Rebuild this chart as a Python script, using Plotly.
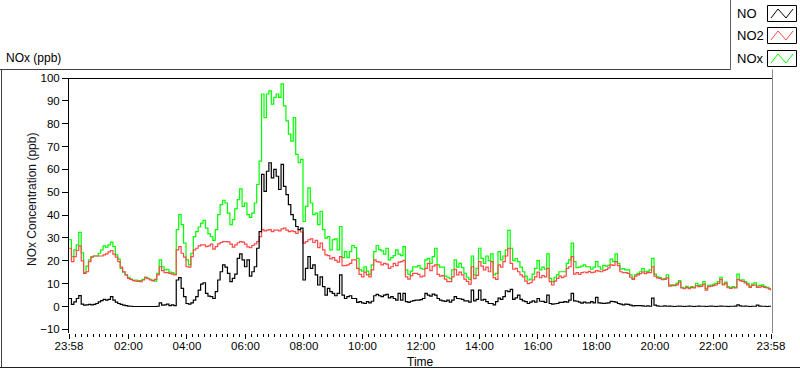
import plotly.graph_objects as go

# ---------------- data ----------------
# minutes after 23:58, every 5 minutes
minutes = list(range(0, 1441, 5))

no_ppb = [
    3.5, 0.9, 2.0, 3.5, 4.8, 1.0, 0.6, 0.7, 0.9, 0.7, 0.9, 1.3,
    2.0, 2.6, 3.1, 2.8, 3.1, 4.3, 2.8, 1.9, 1.3, 0.9, 0.6, 0.4,
    0.2, 0.1, 0.0, 0.0, 0.0, 0.0, 0.0, 0.0, 0.0, 0.0, 0.0, 0.0,
    0.1, 1.6, 0.6, 0.7, 1.0, 0.4, 0.7, 0.4, 11.6, 12.6, 7.9, 4.3,
    1.3, 1.0, 1.6, 2.8, 4.3, 7.2, 9.8, 10.4, 5.7, 4.5, 4.3, 3.5,
    6.5, 11.6, 15.2, 18.2, 17.2, 14.5, 10.9, 12.3, 14.2, 21.1, 23.0, 20.4,
    17.4, 20.4, 13.3, 15.2, 17.4, 25.5, 32.8, 57.8, 50.4, 59.2, 62.9, 56.3,
    60.0, 57.0, 51.2, 62.2, 52.6, 49.0, 44.6, 40.2, 38.0, 35.0, 33.6, 34.3,
    11.6, 16.7, 21.8, 16.7, 18.2, 13.8, 9.4, 13.0, 8.7, 5.0, 7.9, 6.5,
    5.7, 4.7, 5.7, 13.8, 5.0, 3.5, 4.3, 4.7, 3.5, 3.5, 1.8, 2.1,
    1.6, 1.3, 2.1, 1.6, 2.3, 4.7, 5.3, 4.7, 4.3, 5.0, 5.3, 3.8,
    4.3, 3.5, 2.8, 5.7, 2.8, 5.7, 2.1, 1.8, 2.3, 2.6, 2.8, 2.8,
    3.0, 3.5, 5.7, 5.0, 4.5, 5.4, 5.0, 3.5, 2.8, 2.5, 2.2, 2.8,
    1.9, 2.8, 4.3, 3.5, 3.4, 3.1, 2.5, 2.5, 1.9, 7.2, 2.5, 3.1,
    7.2, 2.8, 3.1, 2.1, 1.3, 1.3, 0.7, 2.1, 3.7, 3.1, 4.3, 6.9,
    6.5, 7.5, 3.1, 3.8, 5.0, 3.1, 2.5, 2.1, 1.3, 1.9, 2.5, 1.9,
    3.5, 2.3, 2.2, 1.8, 5.0, 1.3, 1.0, 1.2, 1.3, 1.8, 1.8, 2.1,
    1.9, 2.8, 5.7, 2.5, 2.3, 1.9, 1.5, 1.9, 1.6, 1.6, 2.1, 1.6,
    4.0, 1.6, 1.5, 1.3, 1.5, 1.6, 2.2, 2.1, 1.9, 1.3, 1.0, 0.7,
    1.0, 0.9, 0.6, 0.3, 0.4, 0.4, 0.4, 0.3, 0.1, 0.3, 0.1, 3.7,
    0.6, 0.3, 0.1, 0.1, 0.3, 0.1, 0.2, 0.1, 0.0, 0.1, 0.2, 0.1,
    0.0, 0.1, 0.2, 0.1, 0.0, 0.1, 0.2, 0.1, 0.1, 0.0, 0.1, 0.2,
    0.1, 0.0, 0.1, 0.2, 0.1, 0.1, 0.0, 0.1, 0.1, 0.2, 0.7, 0.3,
    0.1, 0.2, 0.1, 0.0, 0.1, 0.1, 0.6, 0.2, 0.1, 0.1, 0.0, 0.1,
    0.1,
]

no2_ppb = [
    25.5, 19.6, 21.8, 24.5, 26.5, 20.0, 14.5, 15.2, 19.6, 21.6, 22.1, 22.1,
    22.1, 22.1, 22.6, 23.0, 23.9, 24.5, 22.9, 21.6, 19.6, 17.2, 15.2, 13.8,
    12.3, 11.9, 11.3, 11.1, 11.0, 10.9, 11.6, 12.6, 12.2, 11.6, 11.3, 11.9,
    13.8, 17.4, 15.7, 14.8, 14.8, 14.5, 14.2, 13.8, 24.8, 26.2, 23.3, 21.6,
    17.4, 17.2, 21.8, 24.8, 25.5, 26.5, 27.0, 27.0, 26.2, 26.5, 27.3, 25.1,
    26.2, 27.4, 28.0, 28.4, 28.4, 28.3, 27.3, 26.0, 27.0, 27.9, 28.4, 28.2,
    27.3, 26.1, 25.8, 26.7, 27.4, 28.4, 30.6, 33.6, 33.1, 33.4, 33.6, 32.8,
    33.4, 33.4, 33.1, 34.0, 34.3, 33.4, 32.8, 33.1, 32.8, 32.0, 33.6, 32.6,
    27.7, 28.4, 29.2, 29.6, 28.0, 28.9, 25.8, 27.7, 24.8, 22.6, 22.3, 20.8,
    21.4, 20.2, 19.4, 21.8, 17.9, 17.9, 18.2, 18.9, 20.4, 20.4, 16.7, 14.1,
    13.0, 15.0, 13.8, 13.0, 16.0, 20.4, 19.6, 19.4, 18.2, 18.9, 18.5, 16.7,
    17.4, 18.9, 17.9, 19.4, 19.6, 20.2, 13.0, 12.0, 13.5, 14.5, 14.5, 14.1,
    13.0, 13.3, 16.7, 18.9, 15.7, 17.7, 18.2, 14.1, 13.3, 13.5, 12.0, 10.9,
    10.9, 13.0, 16.3, 13.8, 15.0, 13.8, 12.0, 11.0, 9.8, 17.4, 12.2, 13.6,
    19.6, 17.7, 16.0, 17.2, 15.2, 19.6, 12.6, 11.9, 18.2, 17.2, 19.6, 22.1,
    25.5, 18.9, 16.3, 16.7, 15.2, 13.8, 13.0, 11.1, 10.0, 10.4, 11.6, 13.0,
    15.0, 12.6, 13.5, 13.0, 16.7, 10.9, 9.4, 11.1, 12.3, 13.3, 12.6, 13.3,
    16.7, 17.4, 21.8, 14.2, 14.8, 14.1, 14.8, 15.1, 14.8, 15.4, 14.8, 15.0,
    15.7, 15.5, 15.2, 15.8, 16.1, 16.9, 18.2, 18.0, 19.6, 17.9, 15.2, 14.8,
    14.8, 14.5, 12.8, 11.9, 13.3, 13.8, 14.4, 15.1, 14.4, 14.8, 14.8, 17.4,
    13.3, 12.5, 12.3, 11.7, 11.9, 12.5, 8.9, 9.1, 9.1, 9.5, 10.7, 8.1,
    7.8, 8.4, 7.8, 8.4, 8.1, 9.1, 8.7, 8.8, 9.8, 7.2, 8.7, 8.9,
    9.1, 9.4, 10.1, 11.9, 9.4, 10.1, 8.2, 7.9, 8.2, 8.1, 11.9, 11.3,
    11.0, 10.3, 9.5, 8.4, 9.2, 9.4, 8.4, 8.5, 8.8, 8.4, 8.1, 7.6,
    6.9,
]

nox_ppb = [
    29.2, 21.8, 24.8, 27.0, 32.4, 23.5, 14.8, 17.7, 20.4, 21.8, 22.1, 22.1,
    23.3, 24.8, 26.5, 26.0, 27.0, 28.2, 26.2, 22.6, 20.7, 16.7, 15.0, 13.8,
    12.8, 11.9, 11.6, 11.6, 11.3, 11.3, 11.9, 12.9, 12.3, 11.9, 11.3, 11.1,
    14.5, 20.4, 17.4, 16.0, 16.3, 15.1, 14.8, 14.2, 33.6, 40.2, 35.8, 27.7,
    20.4, 18.2, 23.3, 30.6, 32.8, 34.8, 36.5, 37.7, 34.3, 31.8, 30.6, 28.9,
    33.6, 40.2, 44.6, 46.5, 45.3, 40.9, 35.8, 38.0, 42.7, 46.8, 51.5, 43.8,
    45.3, 40.2, 39.0, 40.9, 45.3, 53.4, 63.6, 93.0, 82.7, 93.0, 94.4, 88.6,
    91.5, 93.0, 91.5, 97.4, 87.8, 81.2, 75.4, 72.4, 82.7, 66.6, 62.9, 64.4,
    37.2, 43.8, 51.9, 45.3, 40.2, 40.9, 35.8, 41.6, 33.6, 29.9, 30.6, 24.8,
    29.2, 29.6, 24.8, 35.0, 21.4, 24.0, 21.4, 24.0, 26.7, 25.8, 21.1, 16.0,
    15.5, 17.4, 15.5, 14.1, 18.2, 24.0, 26.7, 24.9, 24.3, 22.9, 25.5, 20.4,
    21.4, 22.3, 24.8, 22.9, 22.3, 26.2, 16.0, 14.1, 15.5, 17.4, 17.3, 17.9,
    16.7, 16.3, 20.4, 21.1, 18.9, 21.8, 25.5, 18.2, 17.2, 17.2, 13.3, 12.8,
    12.2, 16.0, 20.4, 17.2, 18.9, 17.0, 14.5, 12.8, 11.9, 22.1, 13.8, 16.7,
    25.5, 21.1, 18.9, 22.1, 20.1, 23.0, 13.8, 14.5, 24.0, 20.4, 22.1, 24.8,
    33.3, 25.5, 20.1, 21.0, 19.6, 17.2, 15.2, 13.3, 11.6, 12.0, 14.2, 16.7,
    20.1, 16.0, 17.2, 16.3, 23.0, 12.3, 10.9, 12.8, 13.8, 15.2, 15.2, 15.2,
    18.9, 20.4, 27.7, 19.6, 17.0, 17.2, 17.7, 18.2, 17.4, 17.4, 16.3, 17.2,
    19.6, 17.4, 16.3, 18.0, 17.7, 18.0, 20.7, 19.6, 23.0, 18.9, 16.3, 16.6,
    16.0, 16.0, 13.8, 12.2, 13.8, 14.5, 15.2, 16.6, 15.2, 15.4, 16.0, 21.1,
    14.2, 13.0, 12.6, 12.0, 12.2, 13.9, 9.5, 9.5, 9.5, 10.1, 11.3, 8.4,
    8.1, 8.8, 8.2, 8.7, 8.4, 10.1, 9.2, 9.5, 10.9, 7.9, 9.2, 9.4,
    9.7, 10.1, 10.9, 12.8, 9.8, 10.7, 8.7, 8.2, 8.7, 8.4, 14.2, 11.6,
    11.7, 10.9, 10.1, 8.8, 9.8, 10.3, 8.9, 9.2, 9.5, 8.8, 8.4, 7.9,
    7.3,
]

x_tick_vals = [0, 122, 242, 362, 482, 602, 722, 842, 962, 1082, 1202, 1322, 1440]
x_tick_text = ["23:58", "02:00", "04:00", "06:00", "08:00", "10:00", "12:00",
               "14:00", "16:00", "18:00", "20:00", "22:00", "23:58"]
y_tick_vals = list(range(-10, 101, 10))

series_names = ["NO", "NO2", "NOx"]
series_colors = ["#000000", "#ff4848", "#00ff00"]

# ---------------- layout geometry ----------------
W, H = 800, 369
L, R, T, B = 69, 29, 78, 36
PW, PH = W - L - R, H - T - B


def px(x):
    return (x - L) / PW


def py(y):
    return (H - B - y) / PH


FONT = "Liberation Sans, Arial, sans-serif"

fig = go.Figure()
for name, vals, col in [("NOx", nox_ppb, series_colors[2]),
                        ("NO2", no2_ppb, series_colors[1]),
                        ("NO", no_ppb, series_colors[0])]:
    fig.add_trace(go.Scatter(x=minutes, y=vals, mode="lines", name=name,
                             line=dict(color=col, width=1.2, shape="hv"),
                             showlegend=False, hoverinfo="skip"))

shapes = []


def seg(x0, y0, x1, y1, color="#000000", width=1):
    shapes.append(dict(type="line", xref="paper", yref="paper",
                       x0=px(x0), y0=py(y0), x1=px(x1), y1=py(y1),
                       line=dict(color=color, width=width)))


# plot frame
seg(68.5, 78.5, 772, 78.5, "#000000")
seg(772.5, 69.5, 772.5, 333, "#8a8a8a")
# outer frame
seg(0, 69.5, 730.5, 69.5, "#404040")
seg(1.5, 69.5, 1.5, 367.5, "#404040")
seg(0, 367.5, 800, 367.5, "#202020")
seg(730.5, 0, 730.5, 69.5, "#606060")

annotations = []
legend_tops = [5, 27, 50]
for name, col, top in zip(series_names, series_colors, legend_tops):
    shapes.append(dict(type="rect", xref="paper", yref="paper",
                       x0=px(767.5), x1=px(796.5), y0=py(top + 0.5), y1=py(top + 16.5),
                       line=dict(color="#000000", width=1), fillcolor="#ffffff"))
    pts = [(771, top + 13), (778, top + 4), (786, top + 13), (793, top + 4)]
    path = "M " + " L ".join(f"{px(a)},{py(b)}" for a, b in pts)
    shapes.append(dict(type="path", xref="paper", yref="paper", path=path,
                       line=dict(color=col, width=1)))
    annotations.append(dict(text=name, xref="paper", yref="paper",
                            x=px(735), y=py(top + 8.5), xanchor="left", yanchor="middle",
                            showarrow=False, font=dict(family=FONT, size=13, color="#000000")))

annotations += [
    dict(text="NOx (ppb)", xref="paper", yref="paper", x=px(4), y=py(58),
         xanchor="left", yanchor="middle", showarrow=False,
         font=dict(family=FONT, size=12, color="#000000")),
    dict(text="NOx Concentration (ppb)", xref="paper", yref="paper", x=px(32), y=py(200),
         xanchor="center", yanchor="middle", textangle=-90, showarrow=False,
         font=dict(family=FONT, size=12, color="#101020")),
    dict(text="Time", xref="paper", yref="paper", x=px(420), y=py(362),
         xanchor="center", yanchor="middle", showarrow=False,
         font=dict(family=FONT, size=12, color="#000000")),
]

fig.update_layout(
    width=W, height=H,
    margin=dict(l=L, r=R, t=T, b=B, pad=0),
    paper_bgcolor="#ffffff", plot_bgcolor="#ffffff",
    font=dict(family=FONT, size=12, color="#000000"),
    shapes=shapes, annotations=annotations,
    xaxis=dict(range=[0, 1440], tickmode="array", tickvals=x_tick_vals, ticktext=x_tick_text,
               showgrid=False, zeroline=False, showline=False,
               ticks="outside", ticklen=5, tickwidth=1, tickcolor="#000000",
               ticklabelstandoff=-3,
               minor=dict(tick0=2, dtick=12, ticks="outside", ticklen=3,
                          tickcolor="#000000", showgrid=False),
               tickfont=dict(family=FONT, size=11.5, color="#000000"), fixedrange=True),
    yaxis=dict(range=[-11.6, 100], tickmode="array", tickvals=y_tick_vals,
               showgrid=False, zeroline=False, showline=True, linecolor="#000000", linewidth=1,
               ticks="outside", ticklen=6, tickwidth=1, tickcolor="#000000",
               tickfont=dict(family=FONT, size=11.5, color="#000000"), fixedrange=True),
)

fig.write_html(
    "out.html",
    config={"displayModeBar": False},
    post_script="document.body.style.margin='0';document.body.style.padding='0';"
                "document.body.style.overflow='hidden';",
)
